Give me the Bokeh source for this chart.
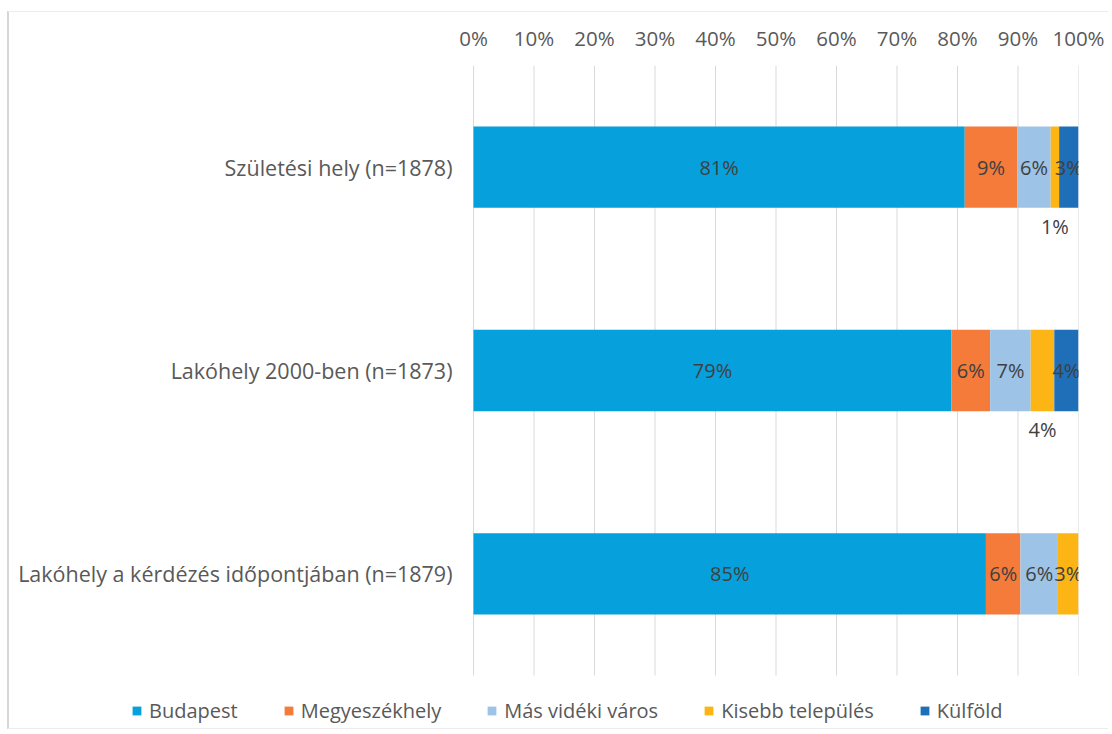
from bokeh.plotting import figure
from bokeh.models import ColumnDataSource, Range1d, FixedTicker, PrintfTickFormatter, Legend, LegendItem
from bokeh.embed import file_html
from bokeh.resources import INLINE
from bokeh.core.properties import value

categories = ["Születési hely (n=1878)", "Lakóhely 2000-ben (n=1873)",
              "Lakóhely a kérdézés időpontjában (n=1879)"]
series = ["Budapest", "Megyeszékhely", "Más vidéki város", "Kisebb település", "Külföld"]
budapest = [81.2, 79.0, 84.7]
megyeszekhely = [8.7, 6.4, 5.7]
mas_videki = [5.5, 6.7, 6.2]
kisebb = [1.4, 3.9, 3.4]
kulfold = [3.2, 4.0, 0.0]
x_ticks = list(range(0, 101, 10))

colors = ["#06a0dc", "#f47b3a", "#9dc3e6", "#fdb515", "#1e6fb8"]
FONT = "Open Sans"
TXT = "#595959"

values = [budapest, megyeszekhely, mas_videki, kisebb, kulfold]
ypos = list(range(len(categories)))
keys = ["s%d" % i for i in range(len(series))]
src = ColumnDataSource(dict(y=ypos, **{k: v for k, v in zip(keys, values)}))

# frame covers the label column and the legend strip as well
PX = 6.05                      # pixels per percent
LEFT_PAD = 464                 # room for category labels
BOTTOM_PAD = 53                # room for legend strip
CAT_PX = 203.5                 # pixels per category
y_top, y_bottom = -0.5, len(categories) - 0.5
p = figure(width=1099, height=716, frame_width=1069, frame_height=663,
           x_range=Range1d(-LEFT_PAD / PX, 100),
           y_range=Range1d(y_bottom + BOTTOM_PAD / CAT_PX, y_top),
           x_axis_location="above", output_backend="svg", toolbar_location=None,
           min_border_left=0, min_border_right=30, min_border_top=53, min_border_bottom=0)
p.outline_line_color = None
p.background_fill_color = "white"
p.xgrid.visible = False
p.ygrid.visible = False
p.yaxis.visible = False

# vertical gridlines limited to the category area
p.segment(x0=x_ticks, x1=x_ticks, y0=[y_top] * len(x_ticks), y1=[y_bottom] * len(x_ticks),
          line_color="#d9d9d9", line_width=1)

renderers = p.hbar_stack(keys, y="y", height=0.4, color=colors, line_color=None, source=src)

# category labels
p.text(x=[0] * len(categories), y=ypos, text=categories, x_offset=-21,
       text_align="right", text_baseline="middle",
       text_font=value(FONT), text_font_size="21.5px", text_color=TXT)

# data labels
lx, ly, lt = [], [], []
below_series = 3
for i, vals in enumerate(values):
    for j, v in enumerate(vals):
        if v <= 0:
            continue
        left = sum(values[k][j] for k in range(i))
        lx.append(left + v / 2.0)
        if i == below_series and j < 2:
            ly.append(j + 0.29)
        else:
            ly.append(j)
        lt.append("%d%%" % round(v))
p.text(x=lx, y=ly, text=lt, text_align="center", text_baseline="middle",
       text_font=value(FONT), text_font_size="20px", text_color="#404040")

p.xaxis.ticker = FixedTicker(ticks=x_ticks)
p.xaxis.formatter = PrintfTickFormatter(format="%d%%")
p.xaxis.axis_line_color = None
p.xaxis.major_tick_line_color = None
p.xaxis.minor_tick_line_color = None
p.xaxis.major_tick_out = 0
p.xaxis.major_tick_in = 0
p.xaxis.major_label_standoff = 14
p.xaxis.major_label_text_font = FONT
p.xaxis.major_label_text_font_size = "20.5px"
p.xaxis.major_label_text_color = TXT

legend = Legend(items=[LegendItem(label=s, renderers=[r]) for s, r in zip(series, renderers)],
                orientation="horizontal", location=(122, 4),
                padding=0, margin=0, spacing=45, label_standoff=7,
                glyph_width=11, glyph_height=11,
                label_text_font=FONT, label_text_font_size="20px", label_text_color=TXT,
                border_line_color=None, background_fill_alpha=0)
p.add_layout(legend)

p.styles = {"border-left": "2px solid #d6d6d6", "border-top": "1px solid #ececec",
            "border-bottom": "1px solid #ececec", "margin-top": "11px", "margin-left": "7px"}

open("out.html", "w").write(file_html(p, INLINE))
